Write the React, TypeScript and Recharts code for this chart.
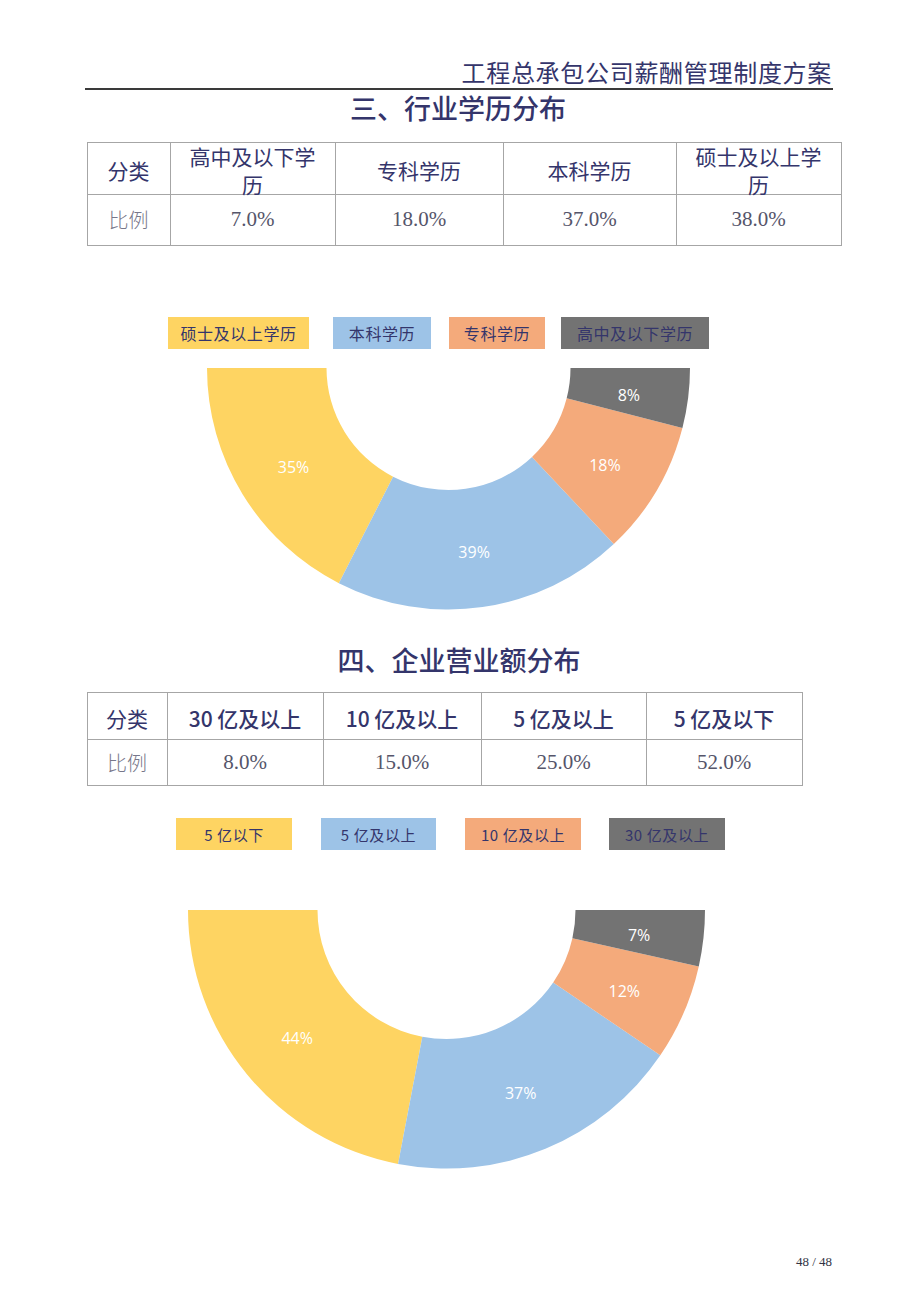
import React from "react"
import { PieChart, Pie, Cell } from "recharts"

// chart data
const eduCategories = ["硕士及以上学历", "本科学历", "专科学历", "高中及以下学历"]
const eduShares = [35, 39, 18, 8]

const revCategories = ["5 亿以下", "5 亿及以上", "10 亿及以上", "30 亿及以上"]
const revShares = [44, 37, 12, 7]

// table contents
const eduTableHeaders = ["高中及以下学历", "专科学历", "本科学历", "硕士及以上学历"]
const eduTableValues = ["7.0%", "18.0%", "37.0%", "38.0%"]
const revTableHeaders = ["30 亿及以上", "10 亿及以上", "5 亿及以上", "5 亿及以下"]
const revTableValues = ["8.0%", "15.0%", "25.0%", "52.0%"]

const sliceColors = ["#FED462", "#9DC3E7", "#F4AA7B", "#737373"]
const navy = "#34356B"
const cjk = '"Noto Sans CJK SC", "Noto Sans", sans-serif'
const serif = '"Liberation Serif", "DejaVu Serif", serif'

const RADIAN = Math.PI / 180

const renderLabel = (props: any) => {
  const { cx, cy, midAngle, innerRadius, outerRadius, value } = props
  const r = (innerRadius + outerRadius) / 2
  const x = cx + r * Math.cos(-midAngle * RADIAN)
  const y = cy + r * Math.sin(-midAngle * RADIAN) + 4
  return (
    <text
      x={x}
      y={y}
      fill="#FFFFFF"
      textAnchor="middle"
      dominantBaseline="central"
      fontSize={16}
      fontFamily='"Open Sans", "Noto Sans", sans-serif'
    >
      {`${value}%`}
    </text>
  )
}

function HalfDonut({ names, values, top, height, cx, cy, inner, outer }: any) {
  const data = names.map((name: string, i: number) => ({ name, value: values[i] }))
  return (
    <div style={{ position: "absolute", left: 0, top, width: 920, height }}>
      <PieChart width={920} height={height} margin={{ top: 0, right: 0, bottom: 0, left: 0 }}>
        <Pie
          data={data}
          dataKey="value"
          nameKey="name"
          cx={cx}
          cy={cy}
          startAngle={180}
          endAngle={360}
          innerRadius={inner}
          outerRadius={outer}
          stroke="none"
          label={renderLabel}
          labelLine={false}
          isAnimationActive={false}
        >
          {data.map((_: any, i: number) => (
            <Cell key={`cell-${i}`} fill={sliceColors[i]} />
          ))}
        </Pie>
      </PieChart>
    </div>
  )
}

function LegendBoxes({ names, top, boxes, fontSize }: any) {
  return (
    <>
      {names.map((name: string, i: number) => (
        <div
          key={name}
          style={{
            position: "absolute",
            left: boxes[i][0],
            top,
            width: boxes[i][1] - boxes[i][0],
            height: 32,
            background: sliceColors[i],
            color: navy,
            fontFamily: cjk,
            fontSize,
            letterSpacing: 0.6,
            display: "flex",
            alignItems: "center",
            justifyContent: "center",
            whiteSpace: "nowrap",
          }}
        >
          {name}
        </div>
      ))}
    </>
  )
}

function DataTable({ left, top, cols, rows, headers, values, headWeight }: any) {
  const xs = [left]
  cols.forEach((w: number) => xs.push(xs[xs.length - 1] + w))
  const ys = [top, top + rows[0], top + rows[0] + rows[1]]
  const width = xs[xs.length - 1] - left
  const border = "#A6A6A6"
  const headCells = ["分类", ...headers]
  const valueCells = ["比例", ...values]
  return (
    <>
      {ys.map((y, i) => (
        <div key={`h${i}`} style={{ position: "absolute", left, top: y, width: width + 1, height: 1, background: border }} />
      ))}
      {xs.map((x, i) => (
        <div key={`v${i}`} style={{ position: "absolute", left: x, top, width: 1, height: ys[2] - top, background: border }} />
      ))}
      {headCells.map((t: string, i: number) => (
        <div
          key={`hc${i}`}
          style={{
            position: "absolute",
            left: xs[i],
            top: ys[0],
            width: cols[i],
            height: rows[0],
            display: "flex",
            alignItems: "center",
            justifyContent: "center",
            textAlign: "center",
            fontFamily: cjk,
            fontSize: 21,
            fontWeight: i === 0 ? 400 : headWeight,
            color: navy,
            lineHeight: "28px",
            padding: "4px 18px 0 18px",
            boxSizing: "border-box",
            overflow: "visible",
          }}
        >
          {t}
        </div>
      ))}
      {valueCells.map((t: string, i: number) => (
        <div
          key={`vc${i}`}
          style={{
            position: "absolute",
            left: xs[i],
            top: ys[1],
            width: cols[i],
            height: rows[1],
            display: "flex",
            alignItems: "center",
            justifyContent: "center",
            fontFamily: i === 0 ? cjk : serif,
            fontSize: i === 0 ? 20 : 21,
            fontWeight: 300,
            color: i === 0 ? "#77778A" : "#55556A",
          }}
        >
          {t}
        </div>
      ))}
    </>
  )
}

export default function App() {
  return (
    <div
      style={{
        position: "absolute",
        left: 0,
        top: 0,
        width: 920,
        height: 1301,
        background: "#FFFFFF",
        overflow: "hidden",
      }}
    >
      <HalfDonut names={eduCategories} values={eduShares} top={360} height={260} cx={448.5} cy={8} inner={122} outer={241.5} />
      <HalfDonut names={revCategories} values={revShares} top={900} height={280} cx={446.5} cy={10} inner={129} outer={258.5} />

      {/* page header */}
      <div
        style={{
          position: "absolute",
          right: 88,
          top: 57,
          fontFamily: cjk,
          fontSize: 24,
          letterSpacing: 0.7,
          lineHeight: "30px",
          color: navy,
          whiteSpace: "nowrap",
        }}
      >
        工程总承包公司薪酬管理制度方案
      </div>
      <div style={{ position: "absolute", left: 85, top: 88, width: 748, height: 2, background: "#3A3A3A" }} />

      <div
        style={{
          position: "absolute",
          left: 0,
          top: 91,
          width: 916,
          textAlign: "center",
          fontFamily: cjk,
          fontSize: 27,
          lineHeight: "34px",
          fontWeight: 500,
          color: navy,
        }}
      >
        三、行业学历分布
      </div>
      <DataTable
        left={87}
        top={142}
        cols={[83, 165, 168, 173, 165]}
        rows={[52, 51]}
        headers={eduTableHeaders}
        values={eduTableValues}
        headWeight={400}
      />
      <LegendBoxes names={eduCategories} top={317} boxes={[[168, 309], [333, 431], [449, 545], [561, 709]]} fontSize={16} />

      <div
        style={{
          position: "absolute",
          left: 0,
          top: 643,
          width: 918,
          textAlign: "center",
          fontFamily: cjk,
          fontSize: 27,
          lineHeight: "34px",
          fontWeight: 500,
          color: navy,
        }}
      >
        四、企业营业额分布
      </div>
      <DataTable
        left={87}
        top={692}
        cols={[80, 156, 158, 165, 156]}
        rows={[47, 46]}
        headers={revTableHeaders}
        values={revTableValues}
        headWeight={500}
      />
      <LegendBoxes names={revCategories} top={818} boxes={[[176, 292], [321, 436], [465, 581], [609, 725]]} fontSize={15} />

      <div
        style={{
          position: "absolute",
          right: 88,
          top: 1254,
          fontFamily: serif,
          fontSize: 13,
          color: "#333344",
          whiteSpace: "nowrap",
        }}
      >
        48 / 48
      </div>
    </div>
  )
}
